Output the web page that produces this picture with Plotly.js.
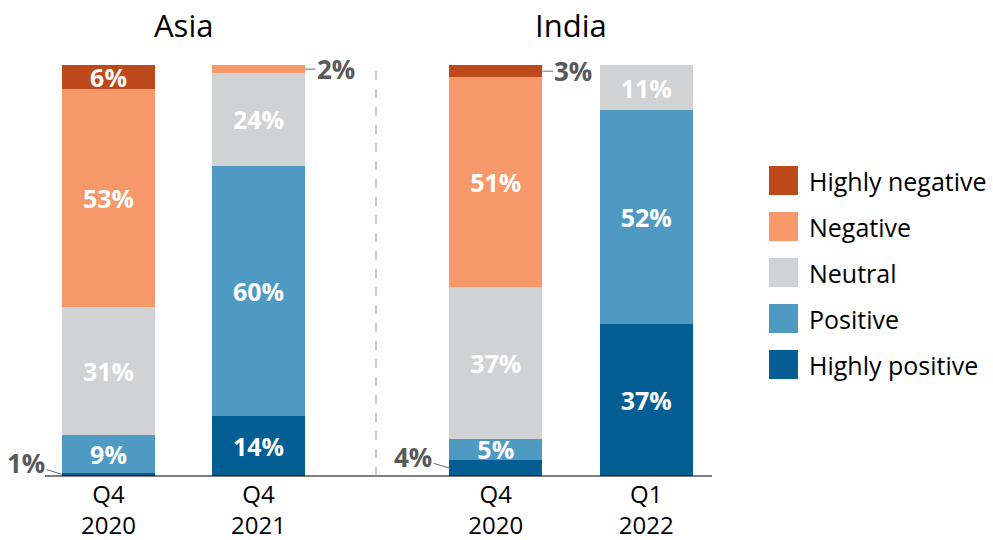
<!DOCTYPE html>
<html>
<head>
<meta charset="utf-8">
<script src="https://cdn.plot.ly/plotly-3.0.1.min.js"></script>
<style>html,body{margin:0;padding:0;background:#fff;}#chart{width:993px;height:540px;}</style>
</head>
<body>
<div id="chart"></div>
<script>
// ---- Data ----
const regions = ["Asia", "India"];
const asiaPeriods = ["Q4<br>2020", "Q4<br>2021"];
const indiaPeriods = ["Q4<br>2020", "Q1<br>2022"];
const sentiments = ["Highly positive", "Positive", "Neutral", "Negative", "Highly negative"];
const colors = ["#035E93", "#4F9AC3", "#D1D2D4", "#F7986A", "#BE4A1B"];

// bar heights as drawn (share, %)
const asiaHighlyPositive = [0.8, 14.7];
const asiaPositive = [9.2, 60.8];
const asiaNeutral = [31, 22.5];
const asiaNegative = [53.2, 2];
const asiaHighlyNegative = [5.8, 0];

const indiaHighlyPositive = [3.9, 37];
const indiaPositive = [5.1, 52];
const indiaNeutral = [37, 11];
const indiaNegative = [51, 0];
const indiaHighlyNegative = [3, 0];

// printed labels (%)
const asiaHighlyPositiveLabel = [1, 14];
const asiaPositiveLabel = [9, 60];
const asiaNeutralLabel = [31, 24];
const asiaNegativeLabel = [53, 2];
const asiaHighlyNegativeLabel = [6, 0];

const indiaHighlyPositiveLabel = [4, 37];
const indiaPositiveLabel = [5, 52];
const indiaNeutralLabel = [37, 11];
const indiaNegativeLabel = [51, 0];
const indiaHighlyNegativeLabel = [3, 0];

const asiaSeries = [asiaHighlyPositive, asiaPositive, asiaNeutral, asiaNegative, asiaHighlyNegative];
const indiaSeries = [indiaHighlyPositive, indiaPositive, indiaNeutral, indiaNegative, indiaHighlyNegative];
const asiaLabels = [asiaHighlyPositiveLabel, asiaPositiveLabel, asiaNeutralLabel, asiaNegativeLabel, asiaHighlyNegativeLabel];
const indiaLabels = [indiaHighlyPositiveLabel, indiaPositiveLabel, indiaNeutralLabel, indiaNegativeLabel, indiaHighlyNegativeLabel];

// ---- Build ----
const FONT = "'Open Sans', Roboto, sans-serif";
const insideMin = 5;
const halfBar = 0.31;
const traces = [];
const annotations = [];

function addRegion(periods, series, labels, xaxis) {
  const base = periods.map(() => 0);
  series.forEach((vals, si) => {
    const lab = labels[si];
    traces.push({
      type: "bar",
      name: sentiments[si],
      x: periods,
      y: vals,
      xaxis: xaxis,
      yaxis: "y",
      marker: { color: colors[si], line: { width: 0 } },
      text: lab.map(v => v >= insideMin ? v + "%" : ""),
      textposition: "inside",
      insidetextanchor: "middle",
      textfont: { color: "#ffffff", size: 25, family: FONT, weight: "bold" },
      hoverinfo: "skip",
      showlegend: false
    });
    vals.forEach((v, i) => {
      if (v > 0 && lab[i] < insideMin) {
        const left = si === 0;
        annotations.push({
          xref: xaxis, yref: "y",
          x: left ? i - halfBar : i + halfBar,
          y: base[i] + v / 2,
          text: "<b>" + lab[i] + "%</b>",
          showarrow: true, arrowhead: 0, arrowwidth: 1, arrowcolor: "#6d6e71",
          standoff: 0, startstandoff: 0,
          ax: left ? -36 : 31, ay: left ? -11 : 0,
          font: { size: 26, color: "#58595B", family: FONT }
        });
      }
      base[i] += v;
    });
  });
}
addRegion(asiaPeriods, asiaSeries, asiaLabels, "x");
addRegion(indiaPeriods, indiaSeries, indiaLabels, "x2");

// region titles
["x", "x2"].forEach((ax, k) => {
  annotations.push({
    xref: ax + " domain", yref: "paper", x: 0.5, y: 1 - 25 / 540,
    xanchor: "center", yanchor: "middle", showarrow: false,
    text: regions[k], font: { size: 31, color: "#000", family: FONT }
  });
});

// custom legend (top item = last sentiment)
const shapes = [];
const legX0 = 769, legSize = 29, legTop = 166, legStep = 46;
sentiments.slice().reverse().forEach((s, k) => {
  const si = sentiments.length - 1 - k;
  const y0 = legTop + k * legStep;
  shapes.push({
    type: "rect", xref: "paper", yref: "paper",
    x0: legX0 / 993, x1: (legX0 + legSize) / 993,
    y0: 1 - (y0 + legSize) / 540, y1: 1 - y0 / 540,
    fillcolor: colors[si], line: { width: 0 }
  });
  annotations.push({
    xref: "paper", yref: "paper", x: 807 / 993, y: 1 - (y0 + legSize / 2) / 540,
    xanchor: "left", yanchor: "middle", showarrow: false,
    text: s, font: { size: 25, color: "#000", family: FONT }
  });
});

// baseline & divider
shapes.push({ type: "line", xref: "paper", yref: "paper", x0: 45 / 993, x1: 712 / 993,
  y0: 1 - 476 / 540, y1: 1 - 476 / 540, line: { color: "#000", width: 1.2 } });
shapes.push({ type: "line", xref: "paper", yref: "paper", x0: 376 / 993, x1: 376 / 993,
  y0: 1 - 476 / 540, y1: 1 - 66 / 540, line: { color: "#a7a9ac", width: 1.2, dash: "dash" } });

const xCommon = {
  type: "category", range: [-0.5, 1.5], autorange: false,
  showgrid: false, zeroline: false, showline: false, ticks: "",
  ticklabelstandoff: 2,
  tickfont: { size: 24, color: "#000", family: FONT }, fixedrange: true
};

const layout = {
  width: 993, height: 540,
  margin: { l: 0, r: 0, t: 0, b: 0 },
  paper_bgcolor: "#fff", plot_bgcolor: "#fff",
  barmode: "stack", bargap: 0.38,
  showlegend: false,
  font: { family: FONT },
  uniformtext: { mode: "show", minsize: 25 },
  xaxis: Object.assign({}, xCommon, { domain: [33.5 / 993, 333.5 / 993], anchor: "y", categoryarray: asiaPeriods }),
  xaxis2: Object.assign({}, xCommon, { domain: [420.5 / 993, 721.5 / 993], anchor: "y", categoryarray: indiaPeriods }),
  yaxis: { range: [0, 100], autorange: false, domain: [64 / 540, 475 / 540], visible: false, fixedrange: true },
  annotations: annotations,
  shapes: shapes
};

Plotly.newPlot("chart", traces, layout, { displayModeBar: false, staticPlot: true });
</script>
</body>
</html>
